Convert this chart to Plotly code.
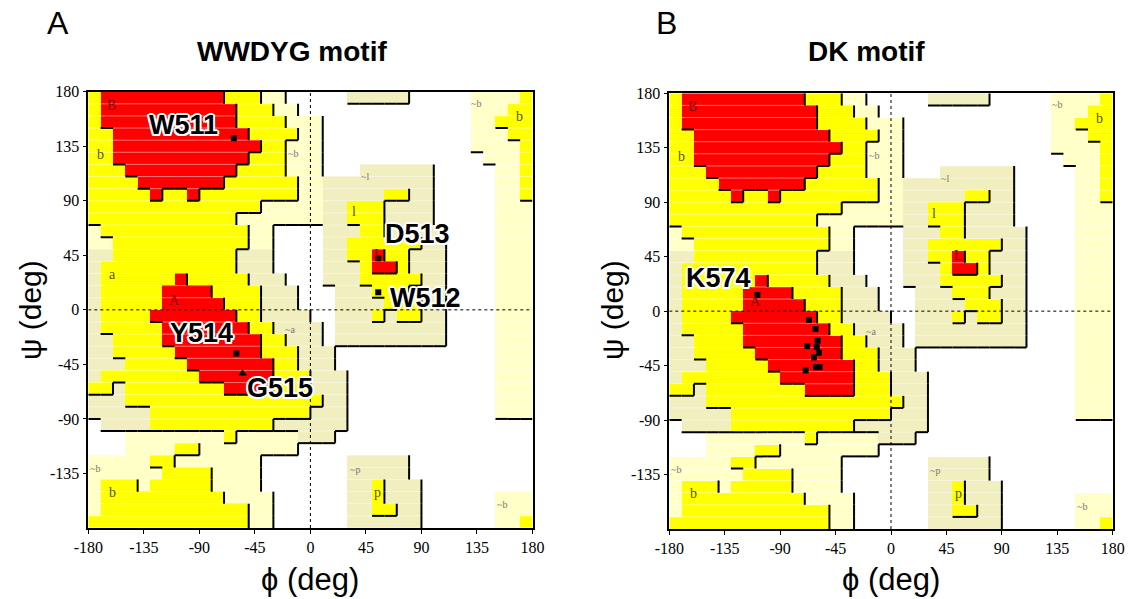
import plotly.graph_objects as go

# ---------------- data ----------------
# Ramachandran region map (10 deg cells). Row 0 = psi 170..180, row 35 = psi -180..-170.
# Col 0 = phi -180..-170, col 35 = phi 170..180.
# R core, Y allowed, G generous (~a, ~l, ~p), P generous (~b), '.' disallowed
GRID = [
    "YRRRRRRRRRRYYYPP.....GGGGG.....PPPPY",
    "YRRRRRRRRRRRYYYPP..............PPPYY",
    "YRRRRRRRRRRRYYYYPPP............PPYYY",
    "YYRRRRRRRRRRRYYYYPP............PPPYY",
    "YYRRRRRRRRRRRRYYPPP............PPPPY",
    "YYRRRRRRRRRRRYYYPPP.............PPPY",
    "YYYRRRRRRRRRYYYYPPP...GGGGGG.....PPY",
    "YYYYRRRRRRRYYYYYYPPGGGGGGGGG.....PPY",
    "YYYYYRYYRYYYYYYYYPPGGGGGYYGG.....PPY",
    "YYYYYYYYYYYYYYPPPPPGGYYYGGGG.....PPP",
    "YYYYYYYYYYYYPPPPPPPGGYYYGGGG.....PPP",
    "PYYYYYYYYYYYYPP....GGGYYGGGGG....PPP",
    "PPYYYYYYYYYYYPP....GGYYYYYYGG....PPP",
    "GGYYYYYYYYYYGGG....GGYYRYYGGG....PPP",
    "GYYYYYYYYYYYGGG....GGGYRRYGGG....PPP",
    "GYYYYYYRYYYYYGGG...GGGYYYYYGG....PPP",
    "GYYYYYRRRRYYYYGGG...GGGYYYGGG....PPP",
    "GYYYYYRRRRRYYYGGG...GGGGYYYGG....PPP",
    "GYYYYRRRRRRRYYGGGG..GGGYGYYGG....PPP",
    "GYYYYYRRRRRRRYYGGGG.GGGGGGGGG....PPP",
    "GGYYYYRRRRRRRRYYGGG.GGGGGGGGG....PPP",
    "GGYYYYYRRRRRRRYYYGGG.............PPP",
    "GGGYYYYYRRRRRRRYYGGG.............PPP",
    "GYYYYYYYYRRRRRRYYYGGG............PPP",
    "YYGYYYYYYYYRRRRYYYGGG............PPP",
    "GGGYYYYYYYYYYYYYYYYGG............PPP",
    "GGGGGYYYYYYYYYYYYYGGG............PPP",
    ".GGGGYYYYYYYYYYGGGGGG...............",
    "...PPPPPPPPYPPPPPGGG................",
    "...PPPPYYPPPPPPPP...................",
    "PPPPPYYPPPPPPP.......GGGGG..........",
    "PPPPPPYYYYPPPP.......GGGGG..........",
    "PYYYPYYYYYPPPP.......GGYGGG.........",
    "PYYYYYYYYYYPPPP......GGYGGG......PPP",
    "PYYYYYYYYYYYYPP......GGYYGG......PPP",
    "YYYYYYYYYYYYYPP......GGGGGG......PPY",
]
for _r in GRID:
    assert len(_r) == 36, (_r, len(_r))

LEVEL = {".": 0, "P": 1, "G": 2, "Y": 3, "R": 4}
REGION_COLORS = ["#FFFFFF", "#FFFFC8", "#F1EFBF", "#FFFF00", "#FF0000"]

phi_ticks = [-180, -135, -90, -45, 0, 45, 90, 135, 180]
phi_ticktext = ["-180", "-135", "-90", "-45", "0", "45", "90", "135", "180"]
psi_ticks = [-135, -90, -45, 0, 45, 90, 135, 180]
psi_ticktext = ["-135", "-90", "-45", "0", "45", "90", "135", "180"]

# region labels: text, phi, psi, kind
reg_text = ["B", "b", "~b", "a", "A", "~a", "~b", "b", "~l", "l", "L", "~b", "b", "~p", "p", "~b"]
reg_phi = [-161, -170, -14, -160.5, -110, -16.5, -174.5, -160, 44, 35, 55, 134.5, 169.5, 36, 54.5, 155]
reg_psi = [169, 128, 129, 29, 8, -16.5, -131, -151, 110, 81, 46, 170.5, 159.5, -132, -151, -161]
reg_kind = ["core", "allowed", "gen", "allowed", "core", "gen", "gen", "allowed", "gen", "allowed",
            "core", "gen", "allowed", "gen", "allowed", "gen"]

# Panel A residues (WWDYG motif); glycine drawn as a triangle
A_res = ["W511", "W512", "D513", "Y514", "G515"]
A_phi = [-62, 55, 55, -60, -55]
A_psi = [141.5, 14.5, 42.5, -36, -52.5]
A_gly = [False, False, False, False, True]
A_lab_phi = [-103, 93, 87, -88, -25]
A_lab_psi = [152.5, 9.5, 63, -19.5, -64.5]

# Panel B residues (DK motif)
B_phi = [-108.5, -66.6, -61.2, -59.5, -68.0, -60.3, -58.5, -62.5, -60.9, -57.9, -69.3]
B_psi = [13.3, -7.2, -14.8, -24.5, -28.9, -29.7, -34.4, -38.2, -46.3, -46.3, -49.0]
B_lab = ["K574"]
B_lab_phi = [-140]
B_lab_psi = [27]

# ---------------- figure ----------------
W, H = 1131, 599
fig = go.Figure()

nrow = len(GRID)
z = [[LEVEL[ch] for ch in GRID[nrow - 1 - i]] for i in range(nrow)]  # ascending psi
xc = [-175 + 10 * i for i in range(36)]
yc = [-175 + 10 * i for i in range(36)]
cs = [[0, REGION_COLORS[0]], [0.125, REGION_COLORS[0]], [0.125, REGION_COLORS[1]], [0.375, REGION_COLORS[1]],
      [0.375, REGION_COLORS[2]], [0.625, REGION_COLORS[2]], [0.625, REGION_COLORS[3]], [0.875, REGION_COLORS[3]],
      [0.875, REGION_COLORS[4]], [1, REGION_COLORS[4]]]

# boundary segments (drawn on the lower/right side of higher regions)
bx, by = [], []
for r in range(nrow):
    top = 180 - 10 * r
    bot = top - 10
    for c in range(36):
        lv = LEVEL[GRID[r][c]]
        left = -180 + 10 * c
        right = left + 10
        if c < 35 and lv > LEVEL[GRID[r][c + 1]]:
            bx += [right, right, None]
            by += [bot, top, None]
        if r < nrow - 1 and lv > LEVEL[GRID[r + 1][c]]:
            bx += [left, right, None]
            by += [bot, bot, None]

stripe_x, stripe_y = [], []
for k in range(-17, 18):
    if k != 0:
        stripe_x += [-180, 180, None]
        stripe_y += [10 * k, 10 * k, None]

halo = ("-1.5px -1.5px 0 #fff, 1.5px -1.5px 0 #fff, -1.5px 1.5px 0 #fff, 1.5px 1.5px 0 #fff, "
        "0 2px 0 #fff, 2px 0 0 #fff, 0 -2px 0 #fff, -2px 0 0 #fff")

for xa, ya in (("x", "y"), ("x2", "y2")):
    fig.add_trace(go.Heatmap(x=xc, y=yc, z=z, zmin=0, zmax=4, colorscale=cs, showscale=False,
                             hoverinfo="skip", xaxis=xa, yaxis=ya))
    fig.add_trace(go.Scatter(x=stripe_x, y=stripe_y, mode="lines", xaxis=xa, yaxis=ya,
                             line=dict(color="rgba(255,255,255,0.45)", width=1), hoverinfo="skip",
                             showlegend=False))
    fig.add_trace(go.Scatter(x=bx, y=by, mode="lines", xaxis=xa, yaxis=ya,
                             line=dict(color="black", width=2), hoverinfo="skip", showlegend=False))
    fig.add_trace(go.Scatter(x=[0, 0, None, -180, 180], y=[-180, 180, None, 0, 0], mode="lines",
                             xaxis=xa, yaxis=ya, line=dict(color="black", width=1, dash="dot"),
                             hoverinfo="skip", showlegend=False))
    for t, p, s, k in zip(reg_text, reg_phi, reg_psi, reg_kind):
        if xa == "x2" and t == "a":
            continue  # hidden under the K574 label in panel B
        if k == "core":
            f = dict(family="Liberation Serif", size=14, color="#7a0000")
        elif k == "allowed":
            f = dict(family="Liberation Serif", size=14, color="#555500")
        else:
            f = dict(family="Liberation Serif", size=10, color="#777777")
        fig.add_annotation(x=p, y=s, xref=xa, yref=ya, text=t, showarrow=False, font=f)

sq_phi = [p for p, g in zip(A_phi, A_gly) if not g]
sq_psi = [s for s, g in zip(A_psi, A_gly) if not g]
tr_phi = [p for p, g in zip(A_phi, A_gly) if g]
tr_psi = [s for s, g in zip(A_psi, A_gly) if g]
fig.add_trace(go.Scatter(x=sq_phi, y=sq_psi, mode="markers", xaxis="x", yaxis="y",
                         marker=dict(symbol="square", size=6, color="black", line=dict(width=0)),
                         hoverinfo="skip", showlegend=False))
fig.add_trace(go.Scatter(x=tr_phi, y=tr_psi, mode="markers", xaxis="x", yaxis="y",
                         marker=dict(symbol="triangle-up", size=8, color="black", line=dict(width=0)),
                         hoverinfo="skip", showlegend=False))
fig.add_trace(go.Scatter(x=B_phi, y=B_psi, mode="markers", xaxis="x2", yaxis="y2",
                         marker=dict(symbol="square", size=6, color="black", line=dict(width=0)),
                         hoverinfo="skip", showlegend=False))

lab_font = dict(family="Liberation Sans", size=27, color="black", weight="bold", shadow=halo)
for t, p, s in zip(A_res, A_lab_phi, A_lab_psi):
    fig.add_annotation(x=p, y=s, xref="x", yref="y", text=t, showarrow=False, font=lab_font)
for t, p, s in zip(B_lab, B_lab_phi, B_lab_psi):
    fig.add_annotation(x=p, y=s, xref="x2", yref="y2", text=t, showarrow=False, font=lab_font)

# panel letters, titles, axis titles
def paper(px, py):
    return px / W, 1 - py / H

for txt, px, py, f in [
    ("A", 58, 23, dict(family="Liberation Sans", size=32, color="black")),
    ("B", 666, 23, dict(family="Liberation Sans", size=32, color="black")),
    ("<b>WWDYG motif</b>", 292, 52, dict(family="Liberation Sans", size=28, color="black")),
    ("<b>DK motif</b>", 866, 52, dict(family="Liberation Sans", size=28, color="black")),
    ("ϕ (deg)", 310, 579, dict(family="Liberation Sans", size=31, color="black")),
    ("ϕ (deg)", 891, 579, dict(family="Liberation Sans", size=31, color="black")),
]:
    x0, y0 = paper(px, py)
    fig.add_annotation(x=x0, y=y0, xref="paper", yref="paper", text=txt, showarrow=False, font=f,
                       xanchor="center", yanchor="middle")
for px in (30, 612):
    x0, y0 = paper(px, 310)
    fig.add_annotation(x=x0, y=y0, xref="paper", yref="paper", text="ψ (deg)", showarrow=False,
                       textangle=-90, font=dict(family="Liberation Sans", size=30, color="black"),
                       xanchor="center", yanchor="middle")

axis_common = dict(range=[-180, 180], showgrid=False, zeroline=False, showline=True, mirror=True,
                   linecolor="black", linewidth=1.5, ticks="outside", ticklen=4, tickcolor="black",
                   automargin=False,
                   tickfont=dict(family="Liberation Serif", size=16, color="black"))
fig.update_layout(
    width=W, height=H, paper_bgcolor="white", plot_bgcolor="white",
    margin=dict(l=0, r=0, t=0, b=0), showlegend=False,
    xaxis=dict(domain=[88.3 / W, 532.5 / W], anchor="y", tickvals=phi_ticks, ticktext=phi_ticktext,
               **axis_common),
    yaxis=dict(domain=[1 - 528 / H, 1 - 91.7 / H], anchor="x", tickvals=psi_ticks, ticktext=psi_ticktext,
               **axis_common),
    xaxis2=dict(domain=[669.3 / W, 1112.7 / W], anchor="y2", tickvals=phi_ticks, ticktext=phi_ticktext,
                **axis_common),
    yaxis2=dict(domain=[1 - 529 / H, 1 - 93.3 / H], anchor="x2", tickvals=psi_ticks, ticktext=psi_ticktext,
                **axis_common),
)

fig.write_html("out.html", config={"displayModeBar": False},
               post_script="document.body.style.margin='0';document.body.style.overflow='hidden';")
